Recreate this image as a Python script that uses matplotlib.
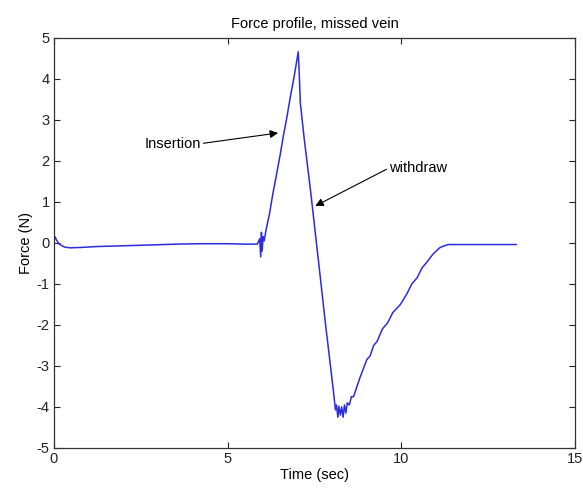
import numpy as np
import matplotlib
matplotlib.use('Agg')
import matplotlib.pyplot as plt

# force trace (time in sec, force in N)
time_s = [0.0, 0.03, 0.08, 0.15, 0.3, 0.45, 0.8, 1.2, 2.0, 2.8, 3.5, 4.2, 5.0, 5.5, 5.85,
          5.92, 5.95, 5.97, 5.99, 6.02, 6.05, 6.1, 6.2, 6.3, 6.4, 6.51, 6.6, 6.7, 6.8, 6.9, 6.97, 7.03,
          7.06, 7.09, 7.2, 7.38, 7.5, 7.67, 7.81, 7.95, 8.04, 8.1,
          8.13, 8.17, 8.2, 8.24, 8.28, 8.32, 8.36, 8.4, 8.44, 8.5, 8.56, 8.62,
          8.7, 8.8, 9.0, 9.1, 9.2, 9.3, 9.45, 9.6, 9.75, 9.97, 10.15, 10.3, 10.45, 10.6, 10.75,
          10.9, 11.0, 11.1, 11.2, 11.35, 11.5, 12.0, 12.5, 13.3]
force_n = [0.02, 0.15, 0.06, -0.03, -0.1, -0.12, -0.11, -0.09, -0.07, -0.05, -0.03, -0.02, -0.02, -0.03, -0.03,
           0.1, -0.34, 0.26, -0.2, 0.15, 0.05, 0.3, 0.7, 1.2, 1.65, 2.15, 2.6, 3.05, 3.55, 4.0, 4.35, 4.66,
           4.1, 3.41, 2.55, 1.3, 0.4, -0.88, -1.95, -2.95, -3.6, -4.07,
           -3.95, -4.25, -3.98, -4.2, -4.0, -4.25, -3.95, -4.15, -3.9, -3.95, -3.75, -3.75,
           -3.55, -3.3, -2.85, -2.75, -2.5, -2.4, -2.1, -1.95, -1.7, -1.5, -1.25, -1.0, -0.85, -0.6, -0.45,
           -0.28, -0.2, -0.12, -0.08, -0.04, -0.04, -0.04, -0.04, -0.04]

x_ticks = [0, 5, 10, 15]
y_ticks = [-5, -4, -3, -2, -1, 0, 1, 2, 3, 4, 5]

plt.rcParams['font.family'] = ['Liberation Sans', 'DejaVu Sans']
plt.rcParams['axes.unicode_minus'] = False

fig = plt.figure(figsize=(5.83, 4.93), dpi=100)
ax = fig.add_axes([0.0926, 0.0913, 0.894, 0.832])

ax.plot(time_s, force_n, color='#2b2bdf', lw=1.1)

ax.set_xlim(0, 15)
ax.set_ylim(-5, 5)
ax.set_xticks(x_ticks)
ax.set_yticks(y_ticks)
ax.tick_params(direction='in', top=True, right=True, length=4, labelsize=10.5,
               colors='#222222', width=0.8, pad=3)
for sp in ax.spines.values():
    sp.set_color('#333333')
    sp.set_linewidth(0.9)

ax.set_title('Force profile, missed vein', fontsize=10.5, pad=7)
ax.set_xlabel('Time (sec)', fontsize=10.5, labelpad=1)
ax.set_ylabel('Force (N)', fontsize=10.5, labelpad=3)

ax.annotate('Insertion', xy=(6.45, 2.68), xytext=(2.6, 2.42),
            ha='left', va='center', fontsize=10.5,
            arrowprops=dict(arrowstyle='-|>', color='black', lw=0.8,
                            mutation_scale=12, shrinkA=0, shrinkB=0, relpos=(1, 0.5)))
ax.annotate('withdraw', xy=(7.52, 0.9), xytext=(9.65, 1.83),
            ha='left', va='center', fontsize=10.5,
            arrowprops=dict(arrowstyle='-|>', color='black', lw=0.8,
                            mutation_scale=12, shrinkA=0, shrinkB=0, relpos=(0, 0.5)))

fig.savefig('out.png', dpi=100)
